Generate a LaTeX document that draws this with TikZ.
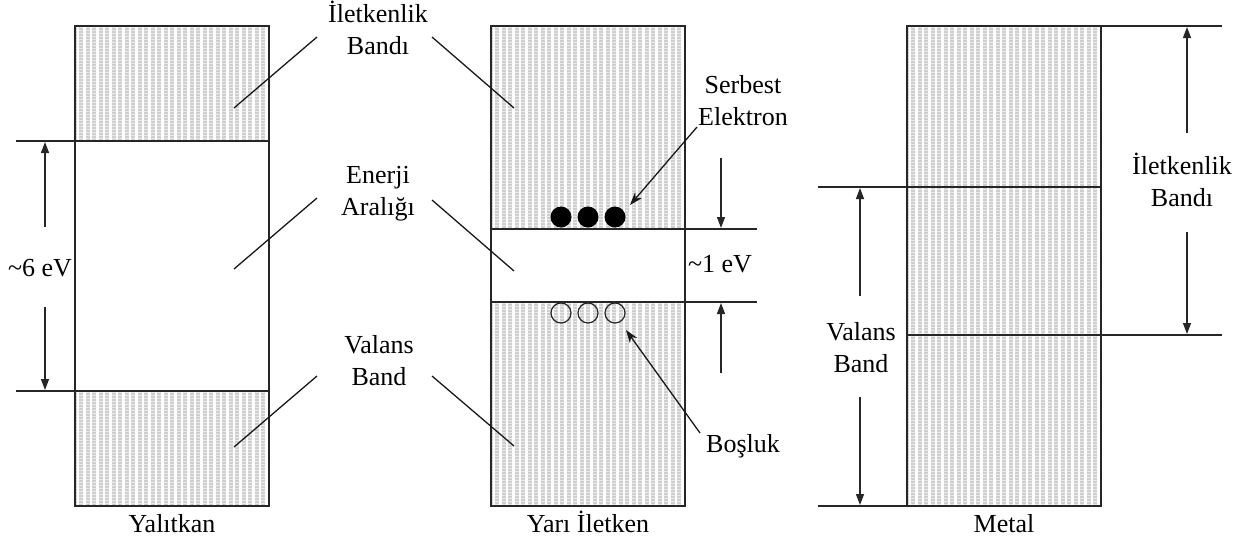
\documentclass[tikz,border=0pt]{standalone}
\usepackage{fontspec}
\setmainfont{Liberation Serif}
\usetikzlibrary{arrows.meta}
\tikzset{
  lbl/.style={font=\fontsize{26}{31.5}\selectfont, align=center, inner sep=0pt, anchor=base},
  boxline/.style={line width=1.4pt, draw=black!85},
  lead/.style={line width=1.3pt, draw=black!90},
  dim/.style={line width=1.3pt, draw=black!85, -{Triangle[length=11pt,width=8pt]}},
  ptr/.style={line width=1.3pt, draw=black!90, -{Stealth[length=13pt,width=9pt]}},
  elec/.style={fill=black},
  hole/.style={draw=black!85, line width=1.2pt, fill=none},
}
\newcommand\hatchrect[4]{%
  \begin{scope}
    \clip (#1,#2) rectangle (#3,#4);
    \fill[gray!38] (#1,#2) rectangle (#3,#4);
    \foreach \i in {0,...,30} {\draw[white, line width=2.4pt] ({#1+3+6.5*\i},#2) -- ({#1+3+6.5*\i},#4);}
    \foreach \j in {0,...,170} {\draw[white, line width=0.6pt, opacity=0.55] (#1,{#2+1.5+3*\j}) -- (#3,{#2+1.5+3*\j});}
  \end{scope}}
\begin{document}
\begin{tikzpicture}[x=1pt,y=-1pt]
\useasboundingbox[fill=white] (0,0) rectangle (1234,542);
% hatches
\hatchrect{75}{26}{269}{141}
\hatchrect{75}{391}{269}{506}
\hatchrect{491}{26}{685}{229}
\hatchrect{491}{302}{685}{506}
\hatchrect{907}{26}{1101}{506}
% boxes
\draw[boxline] (75,26) rectangle (269,506);
\draw[boxline] (491,26) rectangle (685,506);
\draw[boxline] (907,26) rectangle (1101,506);
% band boundaries
\draw[boxline] (16,141) -- (269,141);
\draw[boxline] (16,391) -- (269,391);
\draw[boxline] (491,229) -- (757,229);
\draw[boxline] (491,302) -- (757,302);
\draw[boxline] (1101,26) -- (1222,26);
\draw[boxline] (818,187) -- (1101,187);
\draw[boxline] (907,335) -- (1222,335);
\draw[boxline] (818,506) -- (907,506);
% electrons and holes
\foreach \x/\n in {561/1,588/2,615/3} {
  \fill[elec] (\x,217) circle (10.5pt) coordinate (e\n);
  \draw[hole] (\x,313) circle (10pt) coordinate (h\n);
}
% labels (anchor = baseline of last line)
\node[lbl] (ib) at (378,54) {İletkenlik\\Bandı};
\node[lbl] (ea) at (378,215) {Enerji\\Aralığı};
\node[lbl] (vb) at (379,385) {Valans\\Band};
\node[lbl] (se) at (743,125) {Serbest\\Elektron};
\node[lbl] (bo) at (743,452) {Boşluk};
\node[lbl] (ev6) at (40,276) {\textasciitilde6 eV};
\node[lbl] (ev1) at (720,272) {\textasciitilde1 eV};
\node[lbl] (mib) at (1182,206) {İletkenlik\\Bandı};
\node[lbl] (mvb) at (861,372) {Valans\\Band};
\node[lbl] (yal) at (172,532) {Yalıtkan};
\node[lbl] (yar) at (588,532) {Yarı İletken};
\node[lbl] (met) at (1004,532) {Metal};
% leader line coordinates
\coordinate (ibA) at (317,37);  \coordinate (ibB) at (234,108);
\coordinate (ibC) at (432,37);  \coordinate (ibD) at (514,108);
\coordinate (eaA) at (317,198); \coordinate (eaB) at (234,269);
\coordinate (eaC) at (432,200); \coordinate (eaD) at (514,271);
\coordinate (vbA) at (317,376); \coordinate (vbB) at (234,447);
\coordinate (vbC) at (432,376); \coordinate (vbD) at (514,446);
\draw[lead] (ibA) -- (ibB);
\draw[lead] (ibC) -- (ibD);
\draw[lead] (eaA) -- (eaB);
\draw[lead] (eaC) -- (eaD);
\draw[lead] (vbA) -- (vbB);
\draw[lead] (vbC) -- (vbD);
% pointer arrows
\coordinate (seA) at (697,127); \coordinate (seB) at (630,205);
\coordinate (boA) at (700,433); \coordinate (boB) at (626,330);
\draw[ptr] (seA) -- (seB);
\draw[ptr] (boA) -- (boB);
% dimension arrows
\coordinate (d6a) at (45,227); \coordinate (d6b) at (45,142);
\coordinate (d6c) at (45,307); \coordinate (d6d) at (45,390);
\draw[dim] (d6a) -- (d6b);
\draw[dim] (d6c) -- (d6d);
\coordinate (d1a) at (721,158); \coordinate (d1b) at (721,228);
\coordinate (d1c) at (721,373); \coordinate (d1d) at (721,303);
\draw[dim] (d1a) -- (d1b);
\draw[dim] (d1c) -- (d1d);
\coordinate (dva) at (860,296); \coordinate (dvb) at (860,188);
\coordinate (dvc) at (860,397); \coordinate (dvd) at (860,505);
\draw[dim] (dva) -- (dvb);
\draw[dim] (dvc) -- (dvd);
\coordinate (dia) at (1187,133); \coordinate (dib) at (1187,27);
\coordinate (dic) at (1187,232); \coordinate (did) at (1187,334);
\draw[dim] (dia) -- (dib);
\draw[dim] (dic) -- (did);
\end{tikzpicture}
\end{document}
